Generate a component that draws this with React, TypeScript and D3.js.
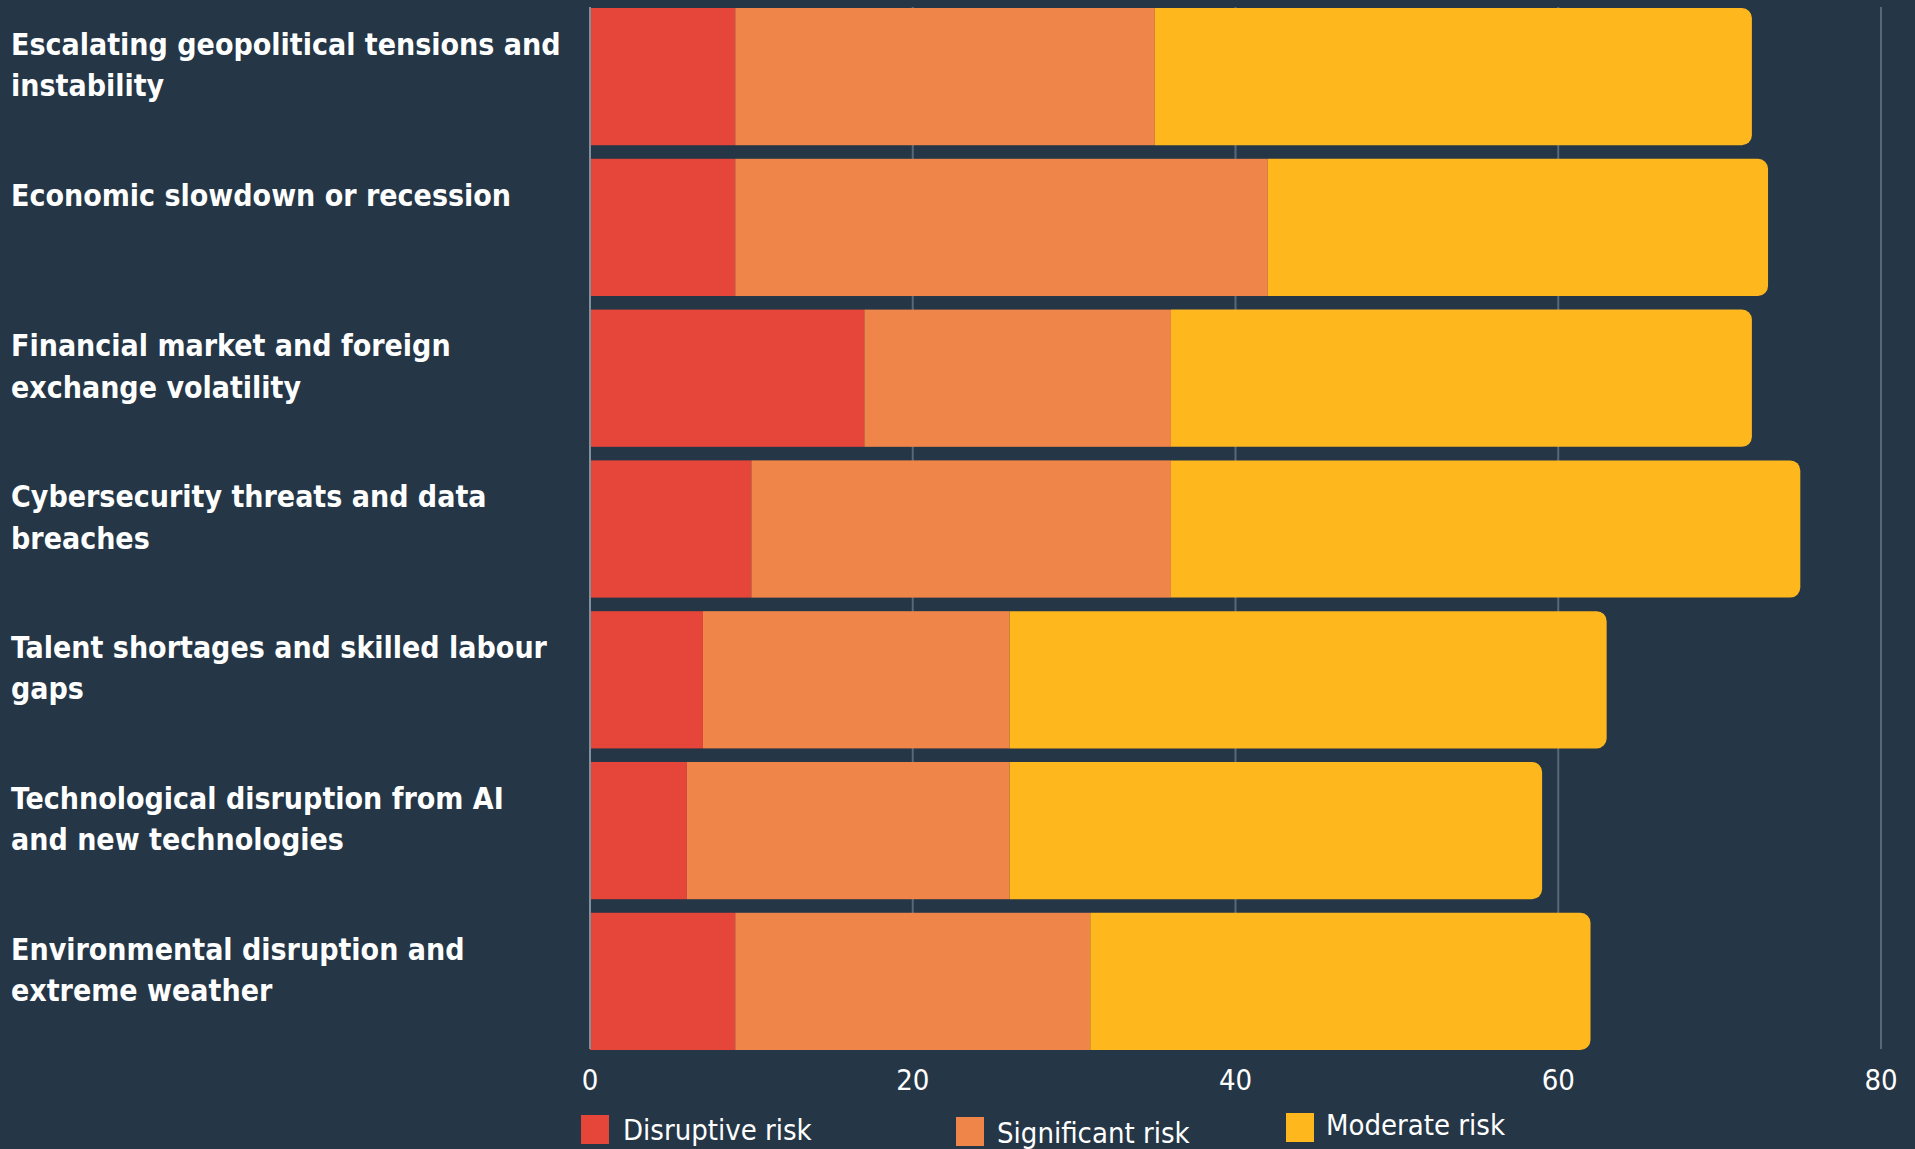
import React, { useEffect, useRef } from "react";
import * as d3 from "d3";

const categories: string[][] = [
  ["Escalating geopolitical tensions and", "instability"],
  ["Economic slowdown or recession"],
  ["Financial market and foreign", "exchange volatility"],
  ["Cybersecurity threats and data", "breaches"],
  ["Talent shortages and skilled labour", "gaps"],
  ["Technological disruption from AI", "and new technologies"],
  ["Environmental disruption and", "extreme weather"],
];
const disruptive = [9, 9, 17, 10, 7, 6, 9];
const significant = [26, 33, 19, 26, 19, 20, 22];
const moderate = [37, 31, 36, 39, 37, 33, 31];
const seriesNames = ["Disruptive risk", "Significant risk", "Moderate risk"];
const seriesColors = ["#E64539", "#F0854A", "#FFB71E"];
const xTicks = [0, 20, 40, 60, 80];

const W = 1915;
const H = 1149;
const BG = "#253747";
const FONT = "'DejaVu Sans Condensed', 'DejaVu Sans', sans-serif";

export default function App() {
  const ref = useRef<SVGSVGElement>(null);
  useEffect(() => {
    const svg = d3.select(ref.current);
    svg.selectAll("*").remove();
    svg.append("rect").attr("width", W).attr("height", H).attr("fill", BG);

    const x = d3.scaleLinear().domain([0, 80]).range([590, 1881]);
    const idx = categories.map((_, i) => String(i));
    const y = d3.scaleBand().domain(idx).range([8, 1050]).paddingInner(0.09).paddingOuter(0);

    // gridlines
    svg.append("g").selectAll("line").data(xTicks.filter((t) => t !== 0)).join("line")
      .attr("x1", (d) => x(d)).attr("x2", (d) => x(d))
      .attr("y1", 7).attr("y2", 1049)
      .attr("stroke", "#56687a").attr("stroke-width", 2);

    const rows = categories.map((c, i) => ({ i: String(i), vals: [disruptive[i], significant[i], moderate[i]] }));
    const bw = y.bandwidth();
    const r = 10;
    rows.forEach((row) => {
      let acc = 0;
      const y0 = y(row.i)!;
      row.vals.forEach((v, k) => {
        const xa = x(acc);
        const xb = x(acc + v);
        acc += v;
        if (k === 2) {
          const p = d3.path();
          p.moveTo(xa, y0);
          p.lineTo(xb - r, y0);
          p.arcTo(xb, y0, xb, y0 + r, r);
          p.lineTo(xb, y0 + bw - r);
          p.arcTo(xb, y0 + bw, xb - r, y0 + bw, r);
          p.lineTo(xa, y0 + bw);
          p.closePath();
          svg.append("path").attr("d", p.toString()).attr("fill", seriesColors[k]);
        } else {
          svg.append("rect").attr("x", xa).attr("y", y0).attr("width", xb - xa).attr("height", bw)
            .attr("fill", seriesColors[k]);
        }
      });
    });

    // axis line at 0
    svg.append("line").attr("x1", x(0)).attr("x2", x(0)).attr("y1", 7).attr("y2", 1049)
      .attr("stroke", "#7f8f9c").attr("stroke-width", 2);

    // tick labels
    svg.append("g").selectAll("text").data(xTicks).join("text")
      .attr("x", (d) => x(d)).attr("y", 1080).attr("dy", "0.36em")
      .attr("text-anchor", "middle").attr("fill", "#ffffff")
      .attr("font-family", FONT).attr("font-size", 29).text((d) => String(d));

    // category labels
    categories.forEach((lines, i) => {
      const t = svg.append("text").attr("fill", "#ffffff").attr("font-family", FONT)
        .attr("font-weight", "bold").attr("font-size", 30);
      lines.forEach((ln, j) => {
        t.append("tspan").attr("x", 11).attr("y", y(String(i))! + 36 + j * 41.5).attr("dy", "0.36em").text(ln);
      });
    });

    // legend
    const leg = [
      { sx: 581, sy: 1115, tx: 623, ty: 1130 },
      { sx: 956, sy: 1117, tx: 997, ty: 1133 },
      { sx: 1286, sy: 1113, tx: 1326, ty: 1125 },
    ];
    leg.forEach((l, k) => {
      svg.append("rect").attr("x", l.sx).attr("y", l.sy).attr("width", 28).attr("height", 29).attr("fill", seriesColors[k]);
      svg.append("text").attr("x", l.tx).attr("y", l.ty).attr("dy", "0.36em").attr("fill", "#ffffff")
        .attr("font-family", FONT).attr("font-size", 29).text(seriesNames[k]);
    });
  }, []);
  return (
    <svg ref={ref} width={W} height={H} style={{ position: "fixed", left: 0, top: 0, display: "block" }} />
  );
}
